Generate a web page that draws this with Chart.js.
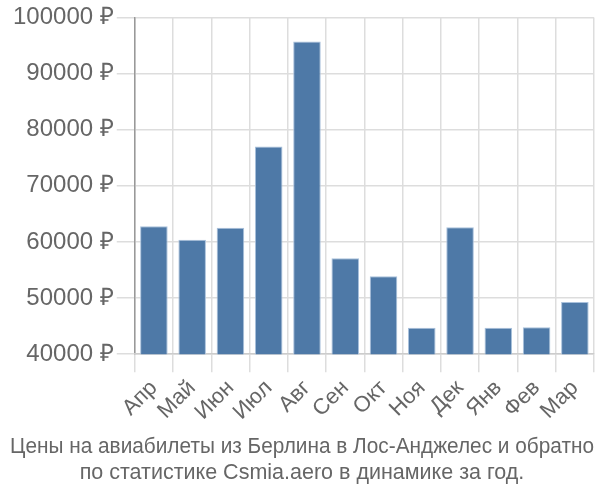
<!DOCTYPE html>
<html>
<head>
<meta charset="utf-8">
<script src="https://cdn.jsdelivr.net/npm/chart.js@4"></script>
<style>
    html, body { margin: 0; padding: 0; background: #fff; }
    #wrap { width: 600px; height: 500px; }
</style>
</head>
<body>
<div id="wrap"><canvas id="priceChart"></canvas></div>
<script>
// Месяцы и цены (руб.)
const months = ['Апр', 'Май', 'Июн', 'Июл', 'Авг', 'Сен', 'Окт', 'Ноя', 'Дек', 'Янв', 'Фев', 'Мар'];
const prices = [62800, 60400, 62500, 77000, 95700, 57100, 53900, 44700, 62600, 44700, 44800, 49300];
const titleLines = [
    'Цены на авиабилеты из Берлина в Лос-Анджелес и обратно',
    'по статистике Csmia.aero в динамике за год.'
];

Chart.defaults.font.family = '"Liberation Sans", Arial, sans-serif';
Chart.defaults.color = '#666';

new Chart(document.getElementById('priceChart'), {
    type: 'bar',
    data: {
        labels: months,
        datasets: [{
            data: prices,
            backgroundColor: '#4e79a7',
            borderColor: '#a9c1dc',
            borderWidth: 1,
            barPercentage: 0.72,
            categoryPercentage: 1
        }]
    },
    options: {
        responsive: true,
        maintainAspectRatio: false,
        animation: false,
        layout: { padding: { top: 0, right: 6, left: 10 } },
        plugins: {
            legend: { display: false },
            tooltip: { enabled: false },
            title: {
                display: true,
                position: 'bottom',
                text: titleLines,
                color: '#666',
                font: { size: 21.5, weight: 'normal' },
                padding: { top: 6, bottom: 14 },
                lineHeight: 1.25
            }
        },
        scales: {
            y: {
                min: 40000,
                max: 100000,
                ticks: {
                    stepSize: 10000,
                    color: '#666',
                    font: { size: 24 },
                    callback: function(value) {
                        return value + ' ₽';
                    }
                },
                grid: { color: '#ddd', lineWidth: 1.5, tickLength: 18 },
                border: { color: '#999', width: 1.5 }
            },
            x: {
                ticks: {
                    color: '#666',
                    font: { size: 22 },
                    autoSkip: false,
                    maxRotation: 45,
                    minRotation: 45
                },
                grid: { color: '#ddd', lineWidth: 1.5, tickLength: 18 },
                border: { color: '#ccc', width: 1.5 }
            }
        }
    }
});
</script>
</body>
</html>
